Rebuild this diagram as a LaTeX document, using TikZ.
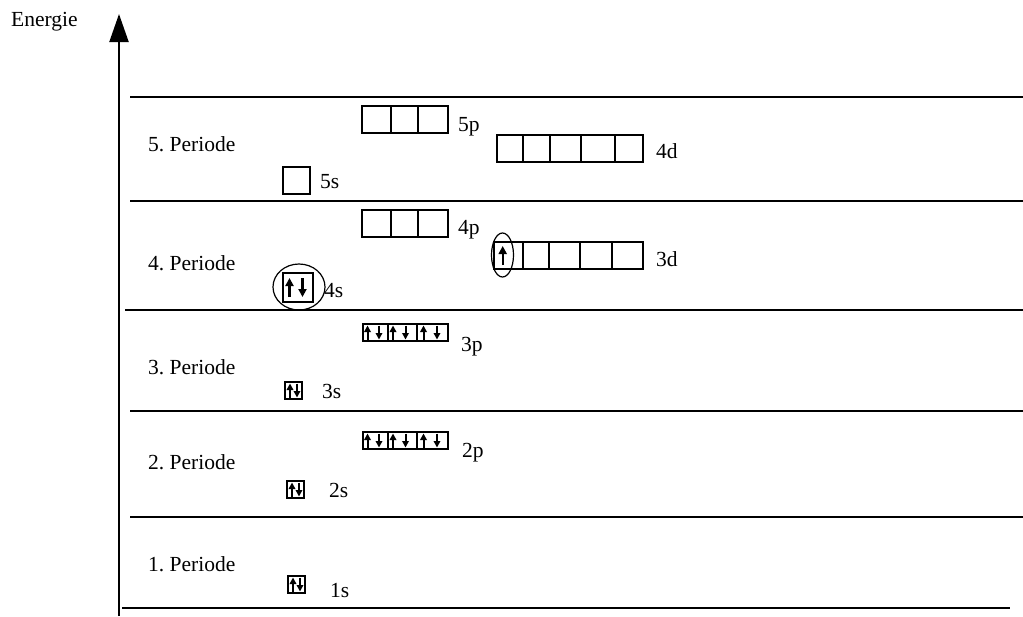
\documentclass[tikz,border=0pt]{standalone}
\usepackage{fontspec}
\setmainfont{Liberation Serif}
\usetikzlibrary{arrows.meta}
\frenchspacing
\begin{document}
\begin{tikzpicture}[x=1pt,y=-1pt,
  hline/.style={line width=2pt},
  axisline/.style={line width=2pt,-{Triangle[length=28pt,width=19pt]}},
  obox/.style={line width=2pt},
  sbox/.style={line width=2.6pt},
  upa/.style={line width=2pt,-{Triangle[length=6.5pt,width=6.5pt]}},
  bigupa/.style={line width=2.4pt,-{Triangle[length=8pt,width=8pt]}},
  ring/.style={line width=1.2pt},
  lbl/.style={anchor=base west,inner sep=0pt,font=\fontsize{21.5}{24}\selectfont}]
\useasboundingbox (0,0) rectangle (1023,616);
% axis
\coordinate (axbot) at (119,616);
\coordinate (axtop) at (119,14);
\draw[axisline] (axbot) -- (axtop);
\node[lbl] (energie) at (11,26) {Energie};
% period lines
\coordinate (l1a) at (130,97);  \coordinate (l1b) at (1023,97);
\coordinate (l2a) at (130,201); \coordinate (l2b) at (1023,201);
\coordinate (l3a) at (125,310); \coordinate (l3b) at (1023,310);
\coordinate (l4a) at (130,411); \coordinate (l4b) at (1023,411);
\coordinate (l5a) at (130,517); \coordinate (l5b) at (1023,517);
\coordinate (l6a) at (122,608); \coordinate (l6b) at (1010,608);
\draw[hline] (l1a) -- (l1b);
\draw[hline] (l2a) -- (l2b);
\draw[hline] (l3a) -- (l3b);
\draw[hline] (l4a) -- (l4b);
\draw[hline] (l5a) -- (l5b);
\draw[hline] (l6a) -- (l6b);
% period labels
\node[lbl] (p5) at (148,151) {5. Periode};
\node[lbl] (p4) at (148,270) {4. Periode};
\node[lbl] (p3) at (148,374) {3. Periode};
\node[lbl] (p2) at (148,469) {2. Periode};
\node[lbl] (p1) at (148,571) {1. Periode};
% 5th period
\draw[obox] (362,106) rectangle (448,133) (391,106) -- (391,133) (418,106) -- (418,133);
\node[lbl] (t5p) at (458,131) {5p};
\draw[obox] (497,135) rectangle (643,162) (523,135) -- (523,162) (550,135) -- (550,162)
  (581,135) -- (581,162) (615,135) -- (615,162);
\node[lbl] (t4d) at (656,158) {4d};
\draw[obox] (283,167) rectangle (310,194);
\node[lbl] (t5s) at (320,188) {5s};
% 4th period
\draw[obox] (362,210) rectangle (448,237) (391,210) -- (391,237) (418,210) -- (418,237);
\node[lbl] (t4p) at (458,234) {4p};
\draw[obox] (494,242) rectangle (643,269) (523,242) -- (523,269) (549,242) -- (549,269)
  (580,242) -- (580,269) (612,242) -- (612,269);
\draw[bigupa] (502.7,265) -- (502.7,246);
\draw[ring] (502.5,255) ellipse [x radius=11, y radius=22];
\node[lbl] (t3d) at (656,266) {3d};
\draw[sbox] (283,273) rectangle (313,302);
\draw[bigupa] (289.5,297) -- (289.5,278);
\draw[bigupa] (302.5,278) -- (302.5,297);
\draw[ring] (299,287) ellipse [x radius=26, y radius=23];
\node[lbl] (t4s) at (324,297) {4s};
% 3rd period
\draw[obox] (363,324) rectangle (448,341) (388,324) -- (388,341) (417,324) -- (417,341);
\foreach \u/\d in {367.5/379, 393/405.5, 423.5/437}{
  \draw[upa] (\u,339.5) -- (\u,325.5);
  \draw[upa] (\d,325.5) -- (\d,339.5);
}
\node[lbl] (t3p) at (461,351) {3p};
\draw[sbox] (285,382) rectangle (302,399);
\draw[upa] (290,397.5) -- (290,383.5);
\draw[upa] (297,383.5) -- (297,397.5);
\node[lbl] (t3s) at (322,398) {3s};
% 2nd period
\draw[obox] (363,432) rectangle (448,449) (388,432) -- (388,449) (417,432) -- (417,449);
\foreach \u/\d in {367.5/379, 393/405.5, 423.5/437}{
  \draw[upa] (\u,447.5) -- (\u,433.5);
  \draw[upa] (\d,433.5) -- (\d,447.5);
}
\node[lbl] (t2p) at (462,457) {2p};
\draw[sbox] (287,481) rectangle (304,498);
\draw[upa] (292,496.5) -- (292,482.5);
\draw[upa] (299,482.5) -- (299,496.5);
\node[lbl] (t2s) at (329,497) {2s};
% 1st period
\draw[sbox] (288,576) rectangle (305,593);
\draw[upa] (293,591.5) -- (293,577.5);
\draw[upa] (300,577.5) -- (300,591.5);
\node[lbl] (t1s) at (330,597) {1s};
\end{tikzpicture}
\end{document}
